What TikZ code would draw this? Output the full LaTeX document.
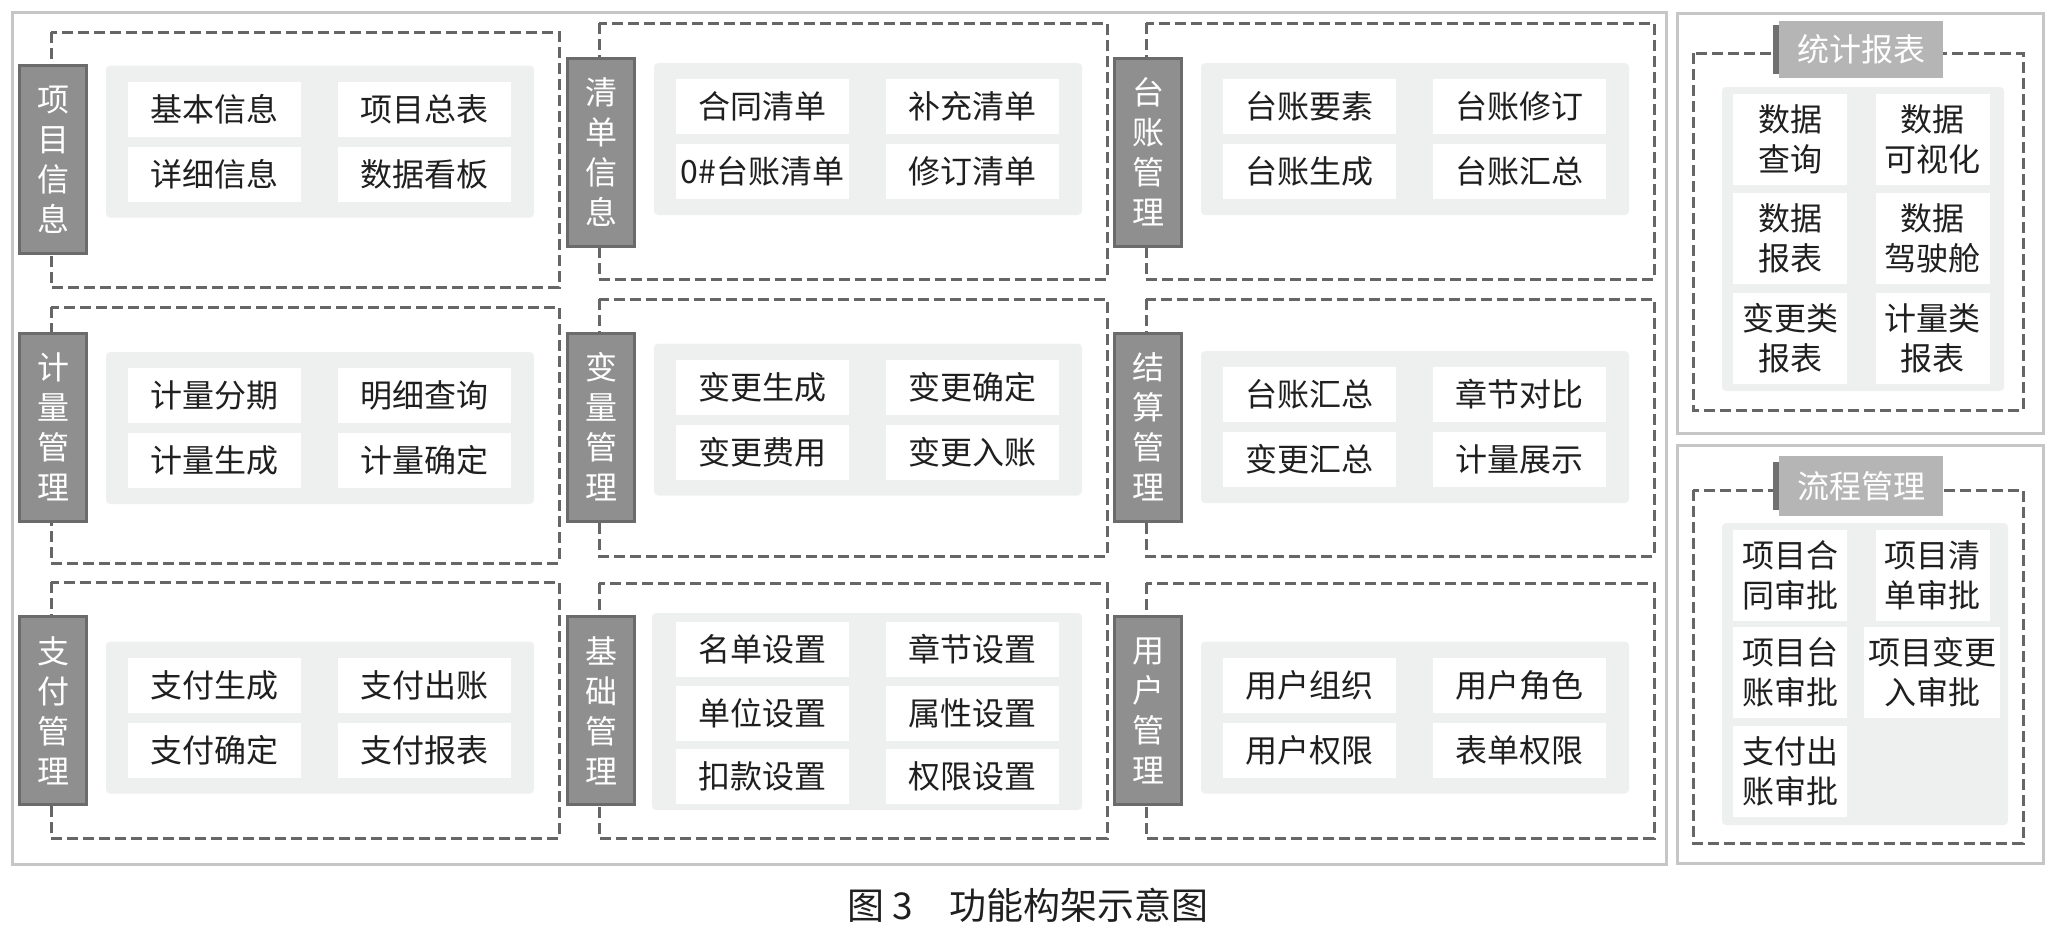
\documentclass[tikz,border=0pt]{standalone}
\usepackage{fontspec}
\setmainfont{Noto Sans CJK SC}
\definecolor{panelgray}{RGB}{238,240,239}
\begin{document}
\begin{tikzpicture}[x=1pt,y=-1pt,
            every node/.style={inner sep=0pt,font=\fontsize{32}{40}\selectfont,text=black!88},
            grayframe/.style={draw=gray!45,line width=3pt},
            dashbox/.style={draw=black!60,line width=3pt,dash pattern=on 11pt off 5pt},
            panel/.style={fill=panelgray,rounded corners=4pt},
            tab/.style={draw=black!58,fill=black!44,line width=3pt,text=white,
                        minimum width=67pt,minimum height=188pt,align=center},
            rtab/.style={fill=black!29,text=white,minimum width=164pt,minimum height=57pt},
            cell/.style={fill=white,minimum width=173pt,minimum height=55pt},
            rcell/.style={fill=white,minimum width=114pt,minimum height=91pt,align=center}
          ]
          \useasboundingbox (0,0) rectangle (2056,940);

          % left part
          \draw[grayframe] (12,12) rectangle (1666,864);
          \foreach \m/\xl/\yt/\yb/\yc/\pc/\lab/\ca/\cb/\cc/\cd in {
            xm/51/32/287/159.5/141.5/{项\\目\\信\\息}/基本信息/项目总表/详细信息/数据看板,
            qd/599/23/279/152/139/{清\\单\\信\\息}/合同清单/补充清单/0\#台账清单/修订清单,
            tz/1146/23/279/152/139/{台\\账\\管\\理}/台账要素/台账修订/台账生成/台账汇总,
            jl/51/307/563/427/428/{计\\量\\管\\理}/计量分期/明细查询/计量生成/计量确定,
            bl/599/299/556/427/419.5/{变\\量\\管\\理}/变更生成/变更确定/变更费用/变更入账,
            js/1146/299/556/427/427/{结\\算\\管\\理}/台账汇总/章节对比/变更汇总/计量展示,
            zf/51/582/838/710.5/717.5/{支\\付\\管\\理}/支付生成/支付出账/支付确定/支付报表,
            yh/1146/583/838/710.5/717.5/{用\\户\\管\\理}/用户组织/用户角色/用户权限/表单权限}{
            \draw[dashbox] (\xl,\yt) rectangle (\xl+508,\yb);
            \fill[panel] (\xl+55,\pc-76) rectangle (\xl+483,\pc+76);
            \node[tab] (tab-\m) at (\xl+2,\yc) {\lab};
            \node[cell] (\m-a) at (\xl+163.5,\pc-32.5) {\ca};
            \node[cell] (\m-b) at (\xl+373.5,\pc-32.5) {\cb};
            \node[cell] (\m-c) at (\xl+163.5,\pc+32.5) {\cc};
            \node[cell] (\m-d) at (\xl+373.5,\pc+32.5) {\cd};
          }

          % jichu guanli has three rows
          \draw[dashbox] (599,583) rectangle (1107,838);
          \fill[panel] (652,613) rectangle (1082,810);
          \node[tab] (tab-jc) at (601,710.5) {基\\础\\管\\理};
          \foreach \i/\y/\ca/\cb in {1/649/名单设置/章节设置,2/713.5/单位设置/属性设置,3/776.5/扣款设置/权限设置}{
            \node[cell] (jc-\i a) at (762.5,\y) {\ca};
            \node[cell] (jc-\i b) at (972.5,\y) {\cb};
          }

          % tongji baobiao
          \draw[grayframe] (1677,13) rectangle (2043,433);
          \draw[dashbox] (1693,53) rectangle (2023,410);
          \fill[panel] (1722,87) rectangle (2004,391);
          \node[rtab] (tab-tj) at (1861,49.5) {统计报表};
          \draw[black!56,line width=6pt] ([xshift=-3pt,yshift=-4pt]tab-tj.north west)
            -- ([xshift=-3pt,yshift=4pt]tab-tj.south west);
          \node[rcell] (tj-1) at (1790,139.5) {数据\\查询};
          \node[rcell] (tj-2) at (1932.5,139.5) {数据\\可视化};
          \node[rcell] (tj-3) at (1790,238) {数据\\报表};
          \node[rcell] (tj-4) at (1932.5,238) {数据\\驾驶舱};
          \node[rcell] (tj-5) at (1790,338) {变更类\\报表};
          \node[rcell] (tj-6) at (1932.5,338) {计量类\\报表};

          % liucheng guanli
          \draw[grayframe] (1677,445) rectangle (2043,863);
          \draw[dashbox] (1693,490) rectangle (2023,843);
          \fill[panel] (1722,523) rectangle (2008,825);
          \node[rtab,minimum height=60pt] (tab-lc) at (1861,486) {流程管理};
          \draw[black!56,line width=6pt] ([xshift=-3pt,yshift=-6pt]tab-lc.north west)
            -- ([xshift=-3pt,yshift=6pt]tab-lc.south west);
          \node[rcell] (lc-1) at (1790,575) {项目合\\同审批};
          \node[rcell] (lc-2) at (1932.5,575) {项目清\\单审批};
          \node[rcell] (lc-3) at (1790,672) {项目台\\账审批};
          \node[rcell,minimum width=136pt] (lc-4) at (1932,672) {项目变更\\入审批};
          \node[rcell] (lc-5) at (1790,771.5) {支付出\\账审批};

          \node[font=\fontsize{37}{40}\selectfont] (cap) at (1028,905) {图 3\quad 功能构架示意图};
          \end{tikzpicture}
\end{document}
